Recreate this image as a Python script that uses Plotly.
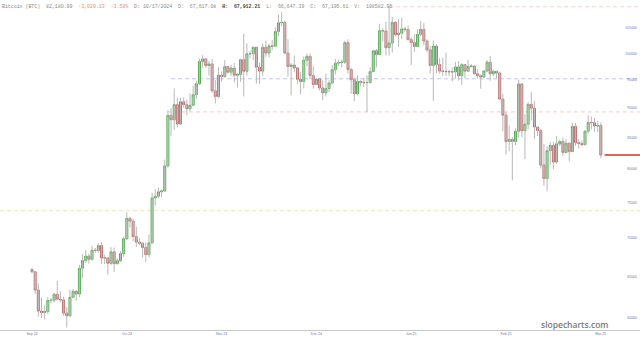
import plotly.graph_objects as go
import pandas as pd

# ---- data (daily BTC candles, values in USD) ----
start_date = "2024-09-29"
opens = [65890,65600,63330,60810,60630,60750,62070,62090,62820,62220,62130,60580,60270,62450,63190,62850,66050,67040,67617.08,67200,68390,68360,69000,67370,67380,66680,68170,66630,67010,67930,69910,72720,72340,70220,69480,69330,68740,67810,69360,75640,75900,76550,76680,80470,88700,87960,90580,87250,91070,90560,89850,90460,92310,94290,98430,98920,97670,97960,93020,91990,95860,95640,97460,96410,97190,95840,96000,98770,96590,99920,99920,101170,97360,96620,101170,100040,101460,101370,104300,106060,106140,100040,97490,97760,97220,95100,94690,98680,99430,95790,94160,95160,93530,92640,93430,94420,96890,98110,98240,98310,102080,96920,95040,92480,94700,94570,94490,94520,96530,100500,99760,104460,104410,101090,102020,106150,103650,103960,104820,104710,102680,102090,101330,103730,104720,102410,100660,97690,101410,97870,96620,96590,96530,96490,96470,97400,95750,97840,96610,97510,97570,96120,95770,95540,96640,98310,96130,96580,96270,91550,88740,84350,84700,84370,86030,94250,86120,87220,90620,89960,86740,86150,80600,78530,82860,83720,81070,83970,84340,82580,84080,82720,86850,84170,84040,83830,86050,87500,87470,86900,87000]
highs = [66080,65620,64130,62370,61470,62480,62370,62970,64470,63170,62520,61290,63390,63440,63270,66480,67880,68390,67912.21,68970,68690,69350,69490,67810,67440,68780,68750,67310,68270,70210,73580,72960,72660,71560,70000,69370,69430,70520,76400,76940,77200,76920,81470,89600,89940,93430,91770,91790,91850,91450,92590,94000,94830,98970,99650,98990,98560,98940,94970,97360,96560,98690,97510,97840,98150,96300,99000,103900,101950,100480,101320,101170,98200,101940,102500,101890,102600,105120,107780,108270,106470,102750,98120,99540,97350,96420,99400,99960,99960,97540,95330,95170,94930,96160,94930,97770,98960,98730,98810,102480,102720,97260,95350,95840,94980,95380,95860,97320,100680,100840,105870,104950,106310,109590,107240,106390,106870,107120,105290,105470,103170,103770,104740,106420,106010,102750,101460,102510,101730,99100,99200,100140,96880,97320,98350,98480,98120,97970,98800,97970,97690,97050,96010,96840,98710,99480,96880,96670,96500,92520,89290,87020,85120,86520,95040,94420,88910,91000,92800,91190,86850,86470,83960,83580,84300,84300,85260,84670,85050,84730,84080,87450,87440,84750,84530,86100,88770,88540,88270,87780,87520]
lows = [65420,62860,60160,59980,59830,60460,61700,61850,62130,61870,60300,58900,60070,62450,62050,62450,64800,66720,66647.39,67050,68020,68050,66610,66590,65260,66490,65550,66550,66830,67510,69730,71440,69590,68810,69050,67460,66800,67470,69300,74560,75580,75770,76490,80220,85260,86260,86670,87110,90060,88740,89380,90410,91580,94070,97280,97240,95780,92650,90770,91760,94690,95380,96160,95720,94490,93580,94660,92000,95770,99060,98730,94320,94260,95730,99350,99220,100630,101230,103340,105320,100000,95590,92180,96420,94230,92400,93440,97590,95140,93420,94010,93060,91350,92000,92780,94200,96000,97560,97270,97920,96180,92500,91200,92210,93830,93710,89260,94300,96490,97340,99760,102290,99550,99550,100120,103340,101280,102750,104170,102510,97780,100280,101300,103320,101560,100280,96180,91230,96200,96160,95700,95670,95720,94750,95260,94870,94090,95290,96460,97260,96040,95210,93390,95290,96450,94850,95690,95270,91370,86050,82260,82790,78250,83750,85040,85080,81530,86330,87850,84720,85250,80050,77460,76620,80630,79940,80800,83640,82030,82450,81180,82670,83650,83200,83660,83790,85550,86350,85910,85860,81700]
closes = [65600,63330,60810,60630,60750,62070,62090,62820,62220,62130,60580,60270,62450,63190,62850,66050,67040,67617.08,67195.61,68390,68360,69000,67370,67380,66680,68170,66630,67010,67930,69910,72720,72340,70220,69480,69330,68740,67810,69360,75640,75900,76550,76680,80470,88700,87960,90580,87250,91070,90560,89850,90460,92310,94290,98430,98920,97670,97960,93020,91990,95860,95640,97460,96410,97190,95840,96000,98770,96590,99920,99920,101170,97360,96620,101170,100040,101460,101370,104300,106060,106140,100040,97490,97760,97220,95100,94690,98680,99430,95790,94160,95160,93530,92640,93430,94420,96890,98110,98240,98310,102080,96920,95040,92480,94700,94570,94490,94520,96530,100500,99760,104460,104410,101090,102020,106150,103650,103960,104820,104710,102680,102090,101330,103730,104720,102410,100660,97690,101410,97870,96620,96590,96530,96490,96470,97400,95750,97840,96610,97510,97570,96120,95770,95540,96640,98310,96130,96580,96270,91550,88740,84350,84700,84370,86030,94250,86120,87220,90620,89960,86740,86150,80600,78530,82860,83720,81070,83970,84340,82580,84080,82720,86850,84170,84040,83830,86050,87500,87470,86900,87000,82180.99]

tick_labels = ["Sep 24", "Oct 24", "Nov 24", "Dec 24", "Jan 25", "Feb 25", "Mar 25"]
tick_every = 30
price_ticks = [60000, 65000, 70000, 75000, 80000, 85000, 90000, 95000, 100000, 105000]
level_lines = [  # price, start date (None = full width), colour
    (109400, "2025-01-20", "#f6c4c4"),
    (95200, "2024-11-12", "#b4b4ec"),
    (89300, "2024-11-11", "#f4bcbc"),
    (73800, None, "#d8e4a8"),
]
last_price = 82180.99
header_parts = [
    ("Bitcoin (BTC)  82,180.99  ", "#8a8a8a", False),
    ("-3,020.13  -3.59%", "#f08a78", False),
    ("  D: 10/17/2024  O:  67,617.08  ", "#8a8a8a", False),
    ("H:  67,912.21", "#444444", True),
    ("  L:  66,647.39  C:  67,195.61  V:  108582.95", "#8a8a8a", False),
]

# ---- build ----
n = len(closes)
dates = pd.date_range(start_date, periods=n, freq="D")
d0 = dates[0]
x_lo = d0 + pd.Timedelta(days=-10.13)
x_hi = d0 + pd.Timedelta(days=192.4)

fig = go.Figure()

shapes = []
for price, sd, col in level_lines:
    if sd is None:
        shapes.append(dict(type="line", xref="paper", x0=0, x1=1, yref="y", y0=price, y1=price,
                           line=dict(color=col, width=0.8, dash="4px,3px"), layer="below"))
    else:
        shapes.append(dict(type="line", xref="x", x0=pd.Timestamp(sd), x1=x_hi, yref="y", y0=price, y1=price,
                           line=dict(color=col, width=0.8, dash="4px,3px"), layer="below"))

# wicks
wx, wy = [], []
for d, h, l in zip(dates, highs, lows):
    wx += [d, d, None]
    wy += [l, h, None]
fig.add_trace(go.Scatter(x=wx, y=wy, mode="lines", line=dict(color="#b8b8b8", width=1),
                         hoverinfo="skip", showlegend=False))

# bodies
body_hi = [max(o, c) for o, c in zip(opens, closes)]
body_lo = [min(o, c) for o, c in zip(opens, closes)]
fig.add_trace(go.Candlestick(
    x=dates, open=opens, high=body_hi, low=body_lo, close=closes,
    increasing=dict(fillcolor="#a8eea8", line=dict(color="#3f9a3f", width=0.8)),
    decreasing=dict(fillcolor="#f4b6b6", line=dict(color="#b05a5a", width=0.8)),
    whiskerwidth=0, showlegend=False))

# last price line
shapes.append(dict(type="line", xref="x", x0=dates[-1] + pd.Timedelta(days=1.2), x1=x_hi,
                   yref="y", y0=last_price, y1=last_price, line=dict(color="#c0392b", width=1.5)))

header = "".join(
    f"<span style='color:{c}'>{'<b>'+t+'</b>' if b else t}</span>"
    for t, c, b in header_parts).replace("  ", "&nbsp;&nbsp;")

fig.update_layout(
    width=640, height=341,
    margin=dict(l=0, r=0, t=0, b=11),
    paper_bgcolor="white", plot_bgcolor="white",
    boxgap=0.08,
    shapes=shapes,
    showlegend=False,
    xaxis=dict(
        type="date", range=[x_lo, x_hi], rangeslider=dict(visible=False),
        tickvals=list(dates[::tick_every]), ticktext=tick_labels,
        showgrid=False, zeroline=False, showline=True, linecolor="#c8c8c8", linewidth=1,
        ticks="", tickfont=dict(size=3.5, color="#6b78a8", family="Liberation Sans"),
    ),
    yaxis=dict(
        type="log", side="right", range=[4.76812, 5.04467],
        tickvals=price_ticks, ticktext=[str(v) for v in price_ticks],
        ticklabelposition="inside", ticks="",
        showgrid=False, zeroline=False, showline=False,
        tickfont=dict(size=3.5, color="#6b78a8", family="Liberation Sans"),
    ),
    annotations=[
        dict(text=header, xref="paper", yref="paper", x=0, y=1, xanchor="left", yanchor="top",
             yshift=-1.5, showarrow=False, font=dict(size=4.9, family="Liberation Mono", color="#8a8a8a")),
        dict(text="slopecharts.com", xref="paper", yref="paper", x=0.952, y=0.016,
             xanchor="right", yanchor="middle", showarrow=False, borderpad=0,
             font=dict(size=8.5, family="Open Sans", color="#7a7a7a", weight=600)),
    ],
)

fig.write_html("out.html")
